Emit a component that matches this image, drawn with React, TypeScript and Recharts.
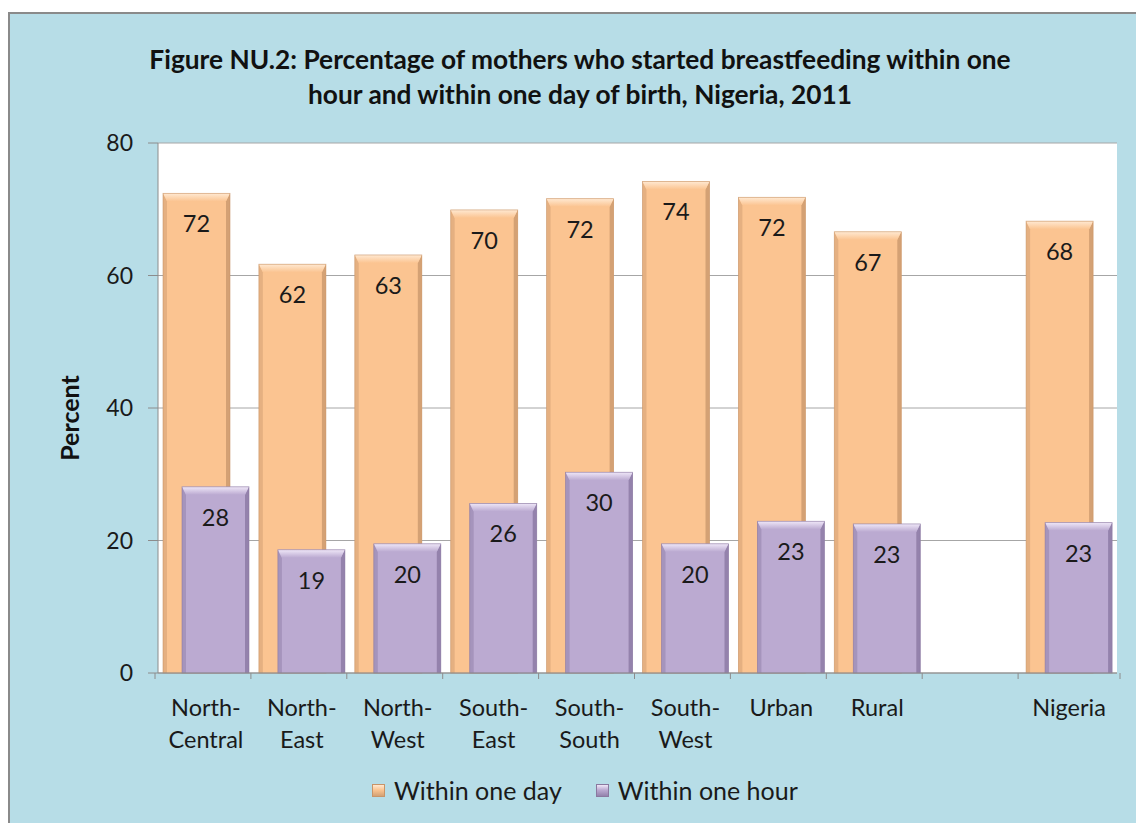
import React from 'react';
import { BarChart, Bar, XAxis, YAxis, CartesianGrid, LabelList } from 'recharts';

const categories = ['North-Central', 'North-East', 'North-West', 'South-East', 'South-South', 'South-West', 'Urban', 'Rural', '', 'Nigeria'];
const withinOneDay = [72.4, 61.7, 63.1, 69.9, 71.6, 74.2, 71.8, 66.6, null, 68.2];
const withinOneHour = [28.1, 18.6, 19.5, 25.6, 30.3, 19.5, 22.9, 22.5, null, 22.7];
const yTicks = [0, 20, 40, 60, 80];

const data = categories.map((c, i) => ({ name: c, day: withinOneDay[i], hour: withinOneHour[i] }));

const FONT = 'Lato, "Open Sans", sans-serif';
const CHART_W = 1126;
const CHART_H = 809;
const MARGIN = { top: 129, right: 19, left: 88, bottom: 70 };
const Y_AXIS_W = 60;
const HALF_BAND = (CHART_W - MARGIN.left - MARGIN.right) / categories.length / 2;

const ORANGE = { base: '#FBC491', light: '#FFE9D2', dark: '#D4A174', edge: '#C89468' };
const PURPLE = { base: '#BBAAD1', light: '#EFE7F8', dark: '#9482AC', edge: '#8A789F' };

function BevelBar(props: any) {
  const { x, y, width: w, height: h, colors, id } = props;
  if (!h || h <= 0) return null;
  const b = 8;
  const s = 4;
  return (
    <g>
      <defs>
        <linearGradient id={`top-${id}`} x1="0" y1="0" x2="0" y2="1">
          <stop offset="0" stopColor={colors.light} />
          <stop offset="1" stopColor={colors.base} />
        </linearGradient>
      </defs>
      <rect x={x} y={y} width={w} height={h} fill={colors.base} />
      <polygon points={`${x},${y} ${x + s},${y + b} ${x + s},${y + h} ${x},${y + h}`} fill={colors.dark} opacity={0.55} />
      <polygon points={`${x + w},${y} ${x + w - s},${y + b} ${x + w - s},${y + h} ${x + w},${y + h}`} fill={colors.dark} />
      <polygon points={`${x},${y} ${x + w},${y} ${x + w - s},${y + b} ${x + s},${y + b}`} fill={`url(#top-${id})`} />
      <rect x={x} y={y} width={w} height={h} fill="none" stroke={colors.edge} strokeWidth={0.8} opacity={0.7} />
    </g>
  );
}

function XTick(props: any) {
  const { x, y, payload, index } = props;
  const label: string = payload.value || '';
  const parts = label.includes('-') ? [label.slice(0, label.indexOf('-') + 1), label.slice(label.indexOf('-') + 1)] : [label];
  return (
    <g>
      <line x1={x - HALF_BAND} x2={x - HALF_BAND} y1={y} y2={y + 6} stroke="#8C8C8C" />
      {index === categories.length - 1 && (
        <line x1={x + HALF_BAND} x2={x + HALF_BAND} y1={y} y2={y + 6} stroke="#8C8C8C" />
      )}
      {parts.map((p, i) => (
        <text key={i} x={x} y={y + 34 + i * 32} textAnchor="middle" dominantBaseline="central" fontFamily={FONT} fontSize={23.5} fill="#1a1a1a">
          {p}
        </text>
      ))}
    </g>
  );
}

function ValueLabel(props: any) {
  const { x, y, width, value } = props;
  if (value === null || value === undefined) return null;
  return (
    <text x={x + width / 2} y={y + 30} textAnchor="middle" dominantBaseline="central" fontFamily={FONT} fontSize={23.5} fill="#1a1a1a">
      {Math.round(value)}
    </text>
  );
}

function LegendItem({ colors, text }: { colors: any; text: string }) {
  return (
    <div style={{ display: 'flex', alignItems: 'center', marginRight: 34 }}>
      <div
        style={{
          width: 13,
          height: 13,
          background: `linear-gradient(${colors.light}, ${colors.base} 45%, ${colors.dark})`,
          border: `1px solid ${colors.edge}`,
          boxSizing: 'border-box',
          marginRight: 9,
        }}
      />
      <span style={{ fontFamily: FONT, fontSize: 25, color: '#1a1a1a' }}>{text}</span>
    </div>
  );
}

export default function App() {
  return (
    <div
      style={{
        position: 'fixed',
        left: 8,
        top: 12,
        width: 1128,
        height: 811,
        background: '#B7DDE7',
        borderTop: '2px solid #8A8A8A',
        borderLeft: '2px solid #8A8A8A',
        boxSizing: 'border-box',
        overflow: 'hidden',
      }}
    >
      <div
        style={{
          position: 'absolute',
          left: 0,
          width: 1140,
          top: 28,
          textAlign: 'center',
          fontFamily: FONT,
          fontWeight: 700,
          fontSize: 26.3,
          lineHeight: '35px',
          color: '#111',
        }}
      >
        Figure NU.2: Percentage of mothers who started breastfeeding within one
        <br />
        hour and within one day of birth, Nigeria, 2011
      </div>
      <BarChart width={CHART_W} height={CHART_H} data={data} margin={MARGIN} barGap={-48} barSize={67}>
        <CartesianGrid vertical={false} fill="#FFFFFF" stroke="#A6A6A6" strokeWidth={1} />
        <XAxis
          dataKey="name"
          axisLine={{ stroke: '#8C8C8C' }}
          tickLine={false}
          tickSize={0}
          tickMargin={0}
          height={80}
          interval={0}
          tick={<XTick />}
        />
        <YAxis
          domain={[0, 80]}
          ticks={yTicks}
          width={Y_AXIS_W}
          axisLine={{ stroke: '#8C8C8C' }}
          tickLine={{ stroke: '#8C8C8C' }}
          tickSize={10}
          tickMargin={15}
          tick={{ fontFamily: FONT, fontSize: 23, fill: '#1a1a1a' }}
          label={{
            content: (p: any) => {
              const vb = p.viewBox || {};
              const cx = vb.x - 29;
              const cy = vb.y + vb.height / 2 + 10;
              return (
                <text x={cx} y={cy} transform={`rotate(-90 ${cx} ${cy})`} textAnchor="middle" dominantBaseline="central" fontFamily={FONT} fontWeight={700} fontSize={25} fill="#111">
                  Percent
                </text>
              );
            },
          }}
        />
        <Bar dataKey="day" isAnimationActive={false} shape={(p: any) => <BevelBar {...p} colors={ORANGE} id={`d${p.index}`} />}>
          <LabelList dataKey="day" content={<ValueLabel />} />
        </Bar>
        <Bar dataKey="hour" isAnimationActive={false} shape={(p: any) => <BevelBar {...p} colors={PURPLE} id={`h${p.index}`} />}>
          <LabelList dataKey="hour" content={<ValueLabel />} />
        </Bar>
      </BarChart>
      <div style={{ position: 'absolute', left: 362, top: 761, display: 'flex' }}>
        <LegendItem colors={ORANGE} text="Within one day" />
        <LegendItem colors={PURPLE} text="Within one hour" />
      </div>
    </div>
  );
}
